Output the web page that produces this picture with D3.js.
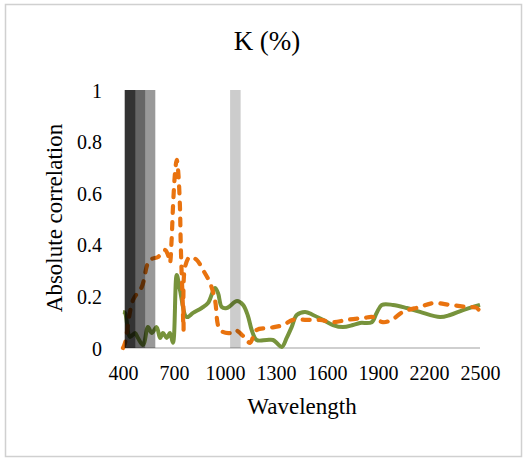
<!DOCTYPE html>
<html>
<head>
<meta charset="utf-8">
<script src="https://cdn.jsdelivr.net/npm/d3@7"></script>
<style>
  body { margin: 0; background: #fff; }
  svg text { font-family: "Times New Roman", "Liberation Serif", "DejaVu Serif", Times, serif; }
</style>
</head>
<body>
<div id="chart"></div>
<script>
// values
var xTicks = [400, 700, 1000, 1300, 1600, 1900, 2200, 2500];
var yTicks = [0, 0.2, 0.4, 0.6, 0.8, 1];

var orangeWl  = [400, 412, 459, 510, 547, 569, 606, 647, 665, 676, 686, 694, 706, 716, 724, 735, 739, 745, 751, 756,
                 765, 794, 834, 871, 912, 941, 971, 1029, 1059, 1118, 1147, 1186, 1265, 1341, 1400, 1480, 1559,
                 1635, 1716, 1812, 1871, 1929, 1981, 2047, 2147, 2224, 2324, 2422, 2480, 2500];
var orangeVal = [0.0, 0.02, 0.186, 0.236, 0.33, 0.345, 0.353, 0.38, 0.36, 0.33, 0.42, 0.547, 0.678, 0.729, 0.69, 0.547, 0.42, 0.29, 0.186, 0.07,
                 0.314, 0.353, 0.341, 0.302, 0.252, 0.186, 0.07, 0.058, 0.07, 0.039, 0.02, 0.07, 0.078, 0.089, 0.109, 0.109, 0.109,
                 0.10, 0.109, 0.116, 0.12, 0.10, 0.109, 0.14, 0.159, 0.174, 0.167, 0.159, 0.156, 0.14];

var greenWl  = [400, 412, 441, 471, 488, 518, 547, 569, 598, 618, 635, 657, 676, 694, 716, 735, 775, 812, 863, 900,
                941, 959, 981, 1010, 1071, 1106, 1135, 1157, 1186, 1245, 1282, 1304, 1334, 1363, 1392, 1422, 1471,
                1518, 1576, 1635, 1694, 1753, 1794, 1863, 1892, 1922, 1988, 2069, 2147, 2265, 2324, 2400, 2500];
var greenVal = [0.14, 0.136, 0.043, 0.058, 0.039, 0.012, 0.081, 0.058, 0.081, 0.039, 0.058, 0.039, 0.058, 0.02, 0.283, 0.225, 0.12, 0.136, 0.155, 0.174,
                0.233, 0.213, 0.159, 0.155, 0.182, 0.167, 0.124, 0.07, 0.031, 0.031, 0.031, 0.02, 0.004, 0.039, 0.081, 0.128, 0.14,
                0.128, 0.109, 0.089, 0.081, 0.089, 0.097, 0.10, 0.136, 0.167, 0.167, 0.155, 0.14, 0.12, 0.128, 0.147, 0.167];

// selected wavelength bands (start, end, shade)
var bandStart = [410, 475, 532, 1030];
var bandEnd   = [475, 532, 590, 1092];
var bandShade = [0.8, 0.6, 0.4, 0.2];

var W = 527, H = 458;
var margin = {top: 90, right: 47, bottom: 110, left: 123};
var serif = "Liberation Serif";

var svg = d3.select("#chart").append("svg").attr("width", W).attr("height", H);

svg.append("rect")
  .attr("x", 5.5).attr("y", 4.5)
  .attr("width", W - 11).attr("height", H - 6)
  .attr("fill", "#fff").attr("stroke", "#d0d0d0").attr("stroke-width", 1.5);

var width = W - margin.left - margin.right;
var height = H - margin.top - margin.bottom;

var x = d3.scaleLinear().domain([400, 2500]).range([0, width]);
var y = d3.scaleLinear().domain([0, 1]).range([height, 0]);

var g = svg.append("g").attr("transform", "translate(" + margin.left + "," + margin.top + ")");

// x axis line
g.append("line")
  .attr("x1", x(400)).attr("x2", x(2500))
  .attr("y1", y(0)).attr("y2", y(0))
  .attr("stroke", "#bfbfbf").attr("stroke-width", 1.5);

var yAxis = g.append("g")
  .call(d3.axisLeft(y).tickValues(yTicks).tickSize(0).tickPadding(21).tickFormat(d3.format("")));
yAxis.attr("font-family", serif).attr("font-size", 20);
yAxis.select(".domain").remove();
yAxis.selectAll("text").attr("fill", "#000").attr("dy", "0.35em");

var xAxis = g.append("g")
  .attr("transform", "translate(0," + height + ")")
  .call(d3.axisBottom(x).tickValues(xTicks).tickSize(0).tickPadding(18).tickFormat(d3.format("d")));
xAxis.attr("font-family", serif).attr("font-size", 20);
xAxis.select(".domain").remove();
xAxis.selectAll("text").attr("fill", "#000");

var line = d3.line()
  .x(function(d) { return x(d[0]); })
  .y(function(d) { return y(d[1]); })
  .curve(d3.curveCatmullRom.alpha(0.5));

var greenData = d3.zip(greenWl, greenVal);
var orangeData = d3.zip(orangeWl, orangeVal);

g.append("path")
  .datum(greenData)
  .attr("d", line)
  .attr("fill", "none")
  .attr("stroke", "#77933C")
  .attr("stroke-width", 4)
  .attr("stroke-linejoin", "round");

g.append("path")
  .datum(orangeData)
  .attr("d", line)
  .attr("fill", "none")
  .attr("stroke", "#E9730F")
  .attr("stroke-width", 4.2)
  .attr("stroke-linecap", "round")
  .attr("stroke-dasharray", "7,9");

// bands drawn on top, semi-transparent
g.selectAll("rect.band")
  .data(d3.range(bandStart.length))
  .enter().append("rect")
  .attr("class", "band")
  .attr("x", function(i) { return x(bandStart[i]); })
  .attr("width", function(i) { return x(bandEnd[i]) - x(bandStart[i]); })
  .attr("y", y(1))
  .attr("height", y(0) - y(1))
  .attr("fill", "#000")
  .attr("fill-opacity", function(i) { return bandShade[i]; });

svg.append("text")
  .attr("x", 267).attr("y", 50)
  .attr("text-anchor", "middle")
  .attr("font-family", serif).attr("font-size", 27)
  .text("K (%)");

svg.append("text")
  .attr("x", 302).attr("y", 414)
  .attr("text-anchor", "middle")
  .attr("font-family", serif).attr("font-size", 23)
  .text("Wavelength");

svg.append("text")
  .attr("transform", "translate(62,218) rotate(-90)")
  .attr("text-anchor", "middle")
  .attr("font-family", serif).attr("font-size", 23)
  .text("Absolute correlation");
</script>
</body>
</html>
